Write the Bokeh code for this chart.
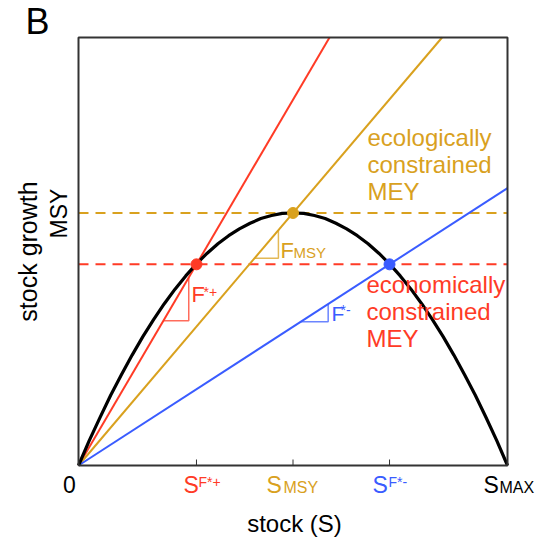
from bokeh.plotting import figure
from bokeh.models import Range1d, Label
from bokeh.embed import file_html
from bokeh.resources import INLINE
import math

# ---- data (S_MAX = 1) ----
stock = [i * 0.025 for i in range(41)]
growth = [0.0, 0.058, 0.112, 0.164, 0.212, 0.258, 0.301, 0.341, 0.378, 0.412,
          0.443, 0.471, 0.496, 0.518, 0.537, 0.553, 0.566, 0.577, 0.584, 0.589,
          0.590,
          0.589, 0.584, 0.577, 0.566, 0.553, 0.537, 0.518, 0.496, 0.471, 0.443,
          0.412, 0.378, 0.341, 0.301, 0.258, 0.212, 0.164, 0.112, 0.058, 0.0]

point_names = ["F*+", "MSY", "F*-"]
point_stock = [0.275, 0.50, 0.725]
point_growth = [0.470, 0.590, 0.470]

msy_level = 0.590
mey_level = 0.470

# slope-triangle corners (stock, growth)
tri_corner_stock = [0.257, 0.466, 0.582]
tri_corner_growth = [0.338, 0.484, 0.336]

RED = "#FF3B26"
GOLD = "#D9A11E"
BLUE = "#3A5CFF"
FONT = "Liberation Sans"

W, H = 539, 541
L, R, T, B = 78, 507, 37, 465
FX = float(R - L)
FY = float(B - T)

def dx(px):
    return (px - L) / FX
def dy(py):
    return (B - py) / FY

p = figure(frame_width=W, frame_height=H,
           x_range=Range1d(dx(0), dx(W)), y_range=Range1d(dy(H), dy(0)),
           output_backend="svg", toolbar_location=None, min_border=0)
p.background_fill_color = "white"
p.border_fill_color = "white"
p.outline_line_color = None
p.grid.visible = False
p.axis.visible = False

# dashed reference levels
p.line([0, 1], [msy_level, msy_level], line_color=GOLD, line_width=2, line_dash="10 7")
p.line([0, 1], [mey_level, mey_level], line_color=RED, line_width=2, line_dash="10 7")

# harvest lines through origin and each point, ending at the box edge
cols = [RED, GOLD, BLUE]
for s, g, c in zip(point_stock, point_growth, cols):
    f = g / s
    xe = min(1.0, 1.0 / f)
    p.line([0, xe], [0, f * xe], line_color=c, line_width=2)

# growth curve
p.line(stock, growth, line_color="black", line_width=3.2, line_join="round")

# slope triangles
for s, g, cs, cg, c in zip(point_stock, point_growth, tri_corner_stock, tri_corner_growth, cols):
    f = g / s
    p.line([cg / f, cs, cs], [cg, cg, f * cs], line_color=c, line_width=1.5, line_alpha=0.75)

# box and ticks
p.line([0, 1, 1, 0, 0], [0, 0, 1, 1, 0], line_color="#333333", line_width=2)
p.segment(x0=point_stock, y0=[0] * 3, x1=point_stock, y1=[6 / FY] * 3,
          line_color="#333333", line_width=1)

# points
p.scatter(point_stock, point_growth, size=11, color=cols)

SHIFT = 0.38  # baseline correction, in em

def lab(text, px, py, color="black", size=22, align="left", angle=0.0):
    if angle:
        px = px - SHIFT * size
    else:
        py = py - SHIFT * size
    p.add_layout(Label(x=dx(px), y=dy(py), text=text, text_color=color,
                       text_font=FONT, text_font_size=f"{size}px",
                       text_align=align, text_baseline="alphabetic", angle=angle))

# panel letter
lab("B", 25, 35, size=36)

# slope labels
lab("F", 191, 302, RED, 22)
lab("*+", 203, 297, RED, 14)
lab("F", 280, 258, GOLD, 22)
lab("MSY", 293, 258, GOLD, 15)
lab("F", 331, 321, BLUE, 21)
lab("*-", 340, 315, BLUE, 14)

# MEY annotations
for i, t in enumerate(["ecologically", "constrained", "MEY"]):
    lab(t, 367, 146 + 27 * i, GOLD, 24)
for i, t in enumerate(["economically", "constrained", "MEY"]):
    lab(t, 366, 293 + 27 * i, RED, 24)

# bottom tick labels
lab("0", 69, 493, "black", 23, align="center")
lab("S", 183, 493, RED, 23)
lab("F*+", 198, 487, RED, 14)
lab("S", 266, 493, GOLD, 23)
lab("MSY", 283, 493, GOLD, 16)
lab("S", 372, 493, BLUE, 23)
lab("F*-", 388, 487, BLUE, 14)
lab("S", 483, 493, "black", 23)
lab("MAX", 499, 493, "black", 16)

# axis titles
lab("stock (S)", 294, 532, "black", 24, align="center")
lab("stock growth", 37, 251, "black", 25, align="center", angle=math.pi / 2)
lab("MSY", 67, 213, "black", 23, align="center", angle=math.pi / 2)

open("out.html", "w").write(file_html(p, INLINE))
